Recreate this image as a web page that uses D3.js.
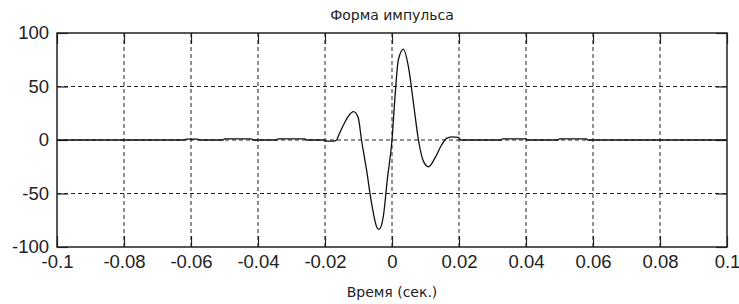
<!DOCTYPE html>
<html>
<head>
<meta charset="utf-8">
<script src="https://cdn.jsdelivr.net/npm/d3@7"></script>
<style>
  body { margin: 0; background: #fff; }
  .tick text { font-family: "Liberation Sans", Arial, sans-serif; font-size: 18.5px; fill: #222; }
  .lbl { font-family: "DejaVu Sans", sans-serif; font-size: 14px; fill: #222; }
</style>
</head>
<body>
<svg id="chart" width="739" height="304"></svg>
<script>
// pulse samples (time in seconds, amplitude)
var pulseTime = [-0.1, -0.062, -0.0615, -0.058, -0.0575, -0.0505, -0.050, -0.042, -0.0415,
    -0.0345, -0.034, -0.026, -0.0255, -0.0205, -0.0200, -0.0175, -0.0165,
    -0.0161, -0.0145, -0.0130, -0.0115, -0.0101, -0.0091, -0.0076, -0.0061, -0.0046, -0.0039,
    -0.0026, -0.0014, 0, 0.0009, 0.0019, 0.0034, 0.0049, 0.0064, 0.0079, 0.0094, 0.0109,
    0.0128, 0.0148, 0.0163, 0.0178, 0.0198, 0.0205, 0.0325, 0.033, 0.040, 0.0405,
    0.0495, 0.050, 0.058, 0.0585, 0.1];
var pulseValue = [0, 0, 0.8, 0.8, 0, 0, 1, 1, 0,
    0, 1, 1, 0, 0, -1, -1, 0,
    3, 14, 22.4, 26.5, 21, 0, -28, -59, -81, -83.5,
    -71.6, -37, 0, 40.5, 75, 85, 68.5, 34.6, 0, -20, -25,
    -17, -4.7, 1.5, 3, 2.5, 0, 0, 1, 1, 0,
    0, 1, 1, 0, 0];

var xTicks = [-0.1, -0.08, -0.06, -0.04, -0.02, 0, 0.02, 0.04, 0.06, 0.08, 0.1];
var yTicks = [-100, -50, 0, 50, 100];

var titleText = "Форма импульса",
    xLabelText = "Время (сек.)";

var svg = d3.select("#chart");

var pLeft = 57, pRight = 727, pTop = 33, pBottom = 247;

var x = d3.scaleLinear().domain([-0.1, 0.1]).range([pLeft, pRight]);
var y = d3.scaleLinear().domain([-100, 100]).range([pBottom, pTop]);

// plain hyphen minus like the original
var fmt = function (d) { return String(+d.toFixed(2)); };

// grid
svg.append("g")
    .selectAll("line")
    .data(xTicks.slice(1, -1))
    .enter().append("line")
    .attr("x1", function (d) { return x(d); })
    .attr("x2", function (d) { return x(d); })
    .attr("y1", pTop)
    .attr("y2", pBottom)
    .style("stroke", "#222")
    .style("stroke-width", 1)
    .style("stroke-dasharray", "4,3");

svg.append("g")
    .selectAll("line")
    .data(yTicks.slice(1, -1))
    .enter().append("line")
    .attr("x1", pLeft)
    .attr("x2", pRight)
    .attr("y1", function (d) { return y(d); })
    .attr("y2", function (d) { return y(d); })
    .style("stroke", "#222")
    .style("stroke-width", 1)
    .style("stroke-dasharray", "4,3");

// axes, ticks inward
var tl = 11;
svg.append("g")
    .attr("transform", "translate(0," + pBottom + ")")
    .call(d3.axisBottom(x).tickValues(xTicks).tickFormat(fmt).tickSizeInner(-tl).tickSizeOuter(0).tickPadding(8));
svg.append("g")
    .attr("transform", "translate(0," + pTop + ")")
    .call(d3.axisTop(x).tickValues(xTicks).tickFormat("").tickSizeInner(-tl).tickSizeOuter(0));
svg.append("g")
    .attr("transform", "translate(" + pLeft + ",0)")
    .call(d3.axisLeft(y).tickValues(yTicks).tickFormat(fmt).tickSizeInner(-tl).tickSizeOuter(0).tickPadding(8));
svg.append("g")
    .attr("transform", "translate(" + pRight + ",0)")
    .call(d3.axisRight(y).tickValues(yTicks).tickFormat("").tickSizeInner(-tl).tickSizeOuter(0));

svg.selectAll(".domain").remove();
svg.selectAll(".tick line").style("stroke", "#222").style("stroke-width", 1.2);

// pulse
var line = d3.line()
    .x(function (d) { return x(d[0]); })
    .y(function (d) { return y(d[1]); })
    .curve(d3.curveMonotoneX);

svg.append("path")
    .datum(d3.zip(pulseTime, pulseValue))
    .attr("d", line)
    .style("fill", "none")
    .style("stroke", "#111")
    .style("stroke-width", 1.3);

// box
svg.append("rect")
    .attr("x", pLeft)
    .attr("y", pTop)
    .attr("width", pRight - pLeft)
    .attr("height", pBottom - pTop)
    .style("fill", "none")
    .style("stroke", "#222")
    .style("stroke-width", 1.5);

svg.append("text")
    .attr("class", "lbl")
    .attr("x", (pLeft + pRight) / 2)
    .attr("y", 20)
    .style("text-anchor", "middle")
    .text(titleText);

svg.append("text")
    .attr("class", "lbl")
    .attr("x", (pLeft + pRight) / 2)
    .attr("y", 297)
    .style("text-anchor", "middle")
    .text(xLabelText);
</script>
</body>
</html>
